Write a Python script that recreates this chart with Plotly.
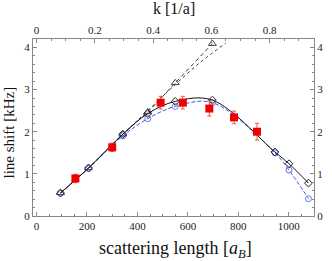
import plotly.graph_objects as go

# experimental data
exp_a = [154, 300, 492, 580, 685, 783, 874]
exp_shift = [0.89, 1.63, 2.69, 2.69, 2.55, 2.34, 2.00]
exp_err = [0.10, 0.10, 0.15, 0.15, 0.18, 0.15, 0.20]

# theory curves
th_a = [95, 206, 342, 441, 550, 697, 945, 1001, 1078]
full_shift = [0.545, 1.14, 1.94, 2.43, 2.72, 2.75, 1.52, 1.24, 0.78]
blue_shift = [0.54, 1.13, 1.90, 2.31, 2.60, 2.69, 1.50, 1.09, 0.41]

lin_a = [95, 206, 342, 441, 550, 697]
lin_shift = [0.55, 1.14, 1.94, 2.47, 3.16, 4.09]

dot_a = [95, 206, 342, 441, 550, 650, 750]
dot_shift = [0.55, 1.14, 1.94, 2.50, 3.12, 3.65, 4.10]

x_range = [-14, 1100]
y_range = [0, 4.2]
k_scale = 1155.0  # a-units per unit of k
k_ticks = [0, 0.2, 0.4, 0.6, 0.8]
y_ticks = [0, 1, 2, 3, 4]
x_ticks = [0, 200, 400, 600, 800, 1000]

font = "Liberation Serif"

fig = go.Figure()
fig.add_trace(go.Scatter(x=dot_a, y=dot_shift, mode="lines", line=dict(color="#333", width=1, dash="dot"),
                         line_shape="spline", showlegend=False))
fig.add_trace(go.Scatter(x=lin_a, y=lin_shift, mode="lines+markers", line=dict(color="#333", width=1, dash="4px,3px"),
                         marker=dict(symbol="triangle-up-open", size=7, color="#444", line=dict(width=1)),
                         line_shape="spline", showlegend=False))
fig.add_trace(go.Scatter(x=th_a, y=blue_shift, mode="lines+markers", line=dict(color="#4455ee", width=1, dash="4px,2px"),
                         marker=dict(symbol="circle-open", size=6, color="#6677ee", line=dict(width=1)),
                         line_shape="spline", showlegend=False))
fig.add_trace(go.Scatter(x=th_a, y=full_shift, mode="lines+markers", line=dict(color="#111", width=1),
                         marker=dict(symbol="diamond-open", size=6, color="#222", line=dict(width=1)),
                         line_shape="spline", showlegend=False))
fig.add_trace(go.Scatter(x=exp_a, y=exp_shift, mode="markers",
                         marker=dict(symbol="square", size=8, color="#ee0000"),
                         error_y=dict(type="data", array=exp_err, color="#ee5555", thickness=1, width=2),
                         showlegend=False))
# invisible companion trace so the top (k) and right axes are drawn
fig.add_trace(go.Scatter(x=[v / k_scale for v in th_a], y=full_shift, xaxis="x2", yaxis="y2",
                         mode="markers", marker=dict(opacity=0), hoverinfo="skip", showlegend=False))

axis_common = dict(showgrid=False, zeroline=False, showline=True, linecolor="#888", linewidth=1,
                   ticks="inside", ticklen=4, tickcolor="#888",
                   tickfont=dict(family=font, size=11, color="#222"))

fig.update_layout(
    width=332, height=261,
    margin=dict(l=33, r=9, t=39, b=45),
    plot_bgcolor="white", paper_bgcolor="white",
    xaxis=dict(range=x_range, tickvals=x_ticks, minor=dict(dtick=50, ticks="inside", ticklen=2, tickcolor="#888"),
               **axis_common),
    xaxis2=dict(range=[x_range[0] / k_scale, x_range[1] / k_scale], overlaying="x", side="top",
                tickvals=k_ticks, ticktext=["0", "0.2", "0.4", "0.6", "0.8"],
                minor=dict(dtick=0.05, ticks="inside", ticklen=2, tickcolor="#888"), **axis_common),
    yaxis=dict(range=y_range, tickvals=y_ticks, minor=dict(dtick=0.2, ticks="inside", ticklen=2, tickcolor="#888"),
               **axis_common),
    yaxis2=dict(range=y_range, overlaying="y", side="right", tickvals=y_ticks,
                minor=dict(dtick=0.2, ticks="inside", ticklen=2, tickcolor="#888"), **axis_common),
    annotations=[
        dict(text="scattering length [<i>a</i><sub><i>B</i></sub>]", xref="paper", yref="paper", x=0.5, y=0,
             xshift=2, yshift=-33, showarrow=False, font=dict(family=font, size=18, color="#111"),
             yanchor="middle"),
        dict(text="line shift [kHz]", xref="paper", yref="paper", x=0, xshift=-25, y=0.5, yshift=-5,
             textangle=-90, showarrow=False, font=dict(family=font, size=15, color="#111"), xanchor="center"),
        dict(text="k [1/a]", xref="paper", yref="paper", x=0.5, y=1, yshift=31, showarrow=False,
             font=dict(family=font, size=16, color="#111"), yanchor="middle"),
    ],
)

fig.write_html("out.html", config={"displayModeBar": False},
               post_script="document.body.style.margin='0';")
